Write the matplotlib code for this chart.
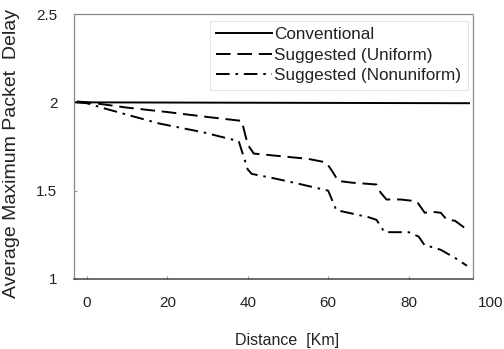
import matplotlib
matplotlib.use("Agg")
import matplotlib.pyplot as plt

plt.rcParams['font.family'] = ['Liberation Sans', 'DejaVu Sans']

conv_x = [-3.2, 95]
conv_y = [2.0, 1.995]

uni_x = [-2.5, 0, 2, 10, 20, 30, 38.5, 40, 41.5, 46, 55, 59.5, 61, 62.5, 66, 72, 73, 74.5, 78, 82, 84, 86, 88, 89.5, 91.5, 94.5]
uni_y = [2.005, 2.0, 1.995, 1.97, 1.945, 1.917, 1.895, 1.76, 1.71, 1.70, 1.68, 1.66, 1.61, 1.555, 1.545, 1.535, 1.49, 1.45, 1.45, 1.44, 1.375, 1.38, 1.375, 1.335, 1.33, 1.28]

non_x = [-2.5, 0, 4, 10, 18, 29, 37.75, 40, 41, 46.5, 52.5, 60, 62, 64, 70, 72, 74, 80, 82.5, 84, 86, 88, 91.5, 94.5]
non_y = [2.0, 1.995, 1.968, 1.93, 1.88, 1.83, 1.78, 1.62, 1.595, 1.57, 1.54, 1.50, 1.39, 1.38, 1.35, 1.335, 1.265, 1.265, 1.24, 1.19, 1.18, 1.165, 1.12, 1.075]

labels = ['Conventional', 'Suggested (Uniform)', 'Suggested (Nonuniform)']
xticks = [0, 20, 40, 60, 80]
yticks = [1, 1.5, 2, 2.5]
yticklabels = ['1', '1.5', '2', '2.5']

fig = plt.figure(figsize=(5.04, 3.49), dpi=100)
ax = fig.add_axes([74/504, 1-279/349, 399/504, 265/349])

ax.plot(conv_x, conv_y, color='black', lw=1.4, linestyle='-', label=labels[0])
ax.plot(uni_x, uni_y, color='black', lw=1.4, linestyle=(0, (7.5, 3.5)), label=labels[1])
ax.plot(non_x, non_y, color='black', lw=1.4, linestyle=(0, (7, 3, 1.3, 3)), label=labels[2])

ax.set_xlim(-3.2, 96.0)
ax.set_ylim(1, 2.5)
ax.set_xticks(xticks)
ax.set_xticklabels([str(t) for t in xticks])
ax.set_yticks(yticks)
ax.set_yticklabels(yticklabels)

ax.tick_params(axis='both', direction='in', length=2, color='#999999', labelsize=11,
               labelcolor='#222222')
ax.tick_params(axis='x', pad=12)
ax.tick_params(axis='y', pad=12)

# the "100" tick label sits beyond the plotted range in the original
ax.text(100.5, 0, '100', transform=ax.get_xaxis_transform(), ha='center', va='top',
        fontsize=11, color='#222222', clip_on=False)
fig.canvas.draw()
t0 = ax.xaxis.get_major_ticks()[0].label1
bb = t0.get_window_extent()
inv = ax.get_xaxis_transform().inverted()
ytop = inv.transform((0, bb.y1))[1]
ax.texts[-1].set_y(ytop)

for s in ax.spines.values():
    s.set_linestyle((0, (1, 1)))
    s.set_color('#888888')
    s.set_linewidth(0.9)
ax.spines['bottom'].set_color('#444444')
ax.spines['bottom'].set_linewidth(1.1)

ax.set_xlabel('Distance  [Km]', fontsize=11.5, color='#222222')
ax.xaxis.set_label_coords(0.534, -0.205)
ax.set_ylabel('Average Maximum Packet  Delay', fontsize=14, color='#222222')
ax.yaxis.set_label_coords(-0.135, 0.475)

leg = ax.legend(loc='upper right', bbox_to_anchor=(0.988, 0.975), fontsize=12.3,
                frameon=True, fancybox=False, handlelength=3.27, handletextpad=0.12,
                labelspacing=0.3, borderaxespad=0.0, borderpad=0.4)
leg.get_frame().set_edgecolor('#d8d8d8')
leg.get_frame().set_linewidth(0.6)
for t in leg.get_texts():
    t.set_color('#222222')

fig.savefig('out.png', dpi=100)
